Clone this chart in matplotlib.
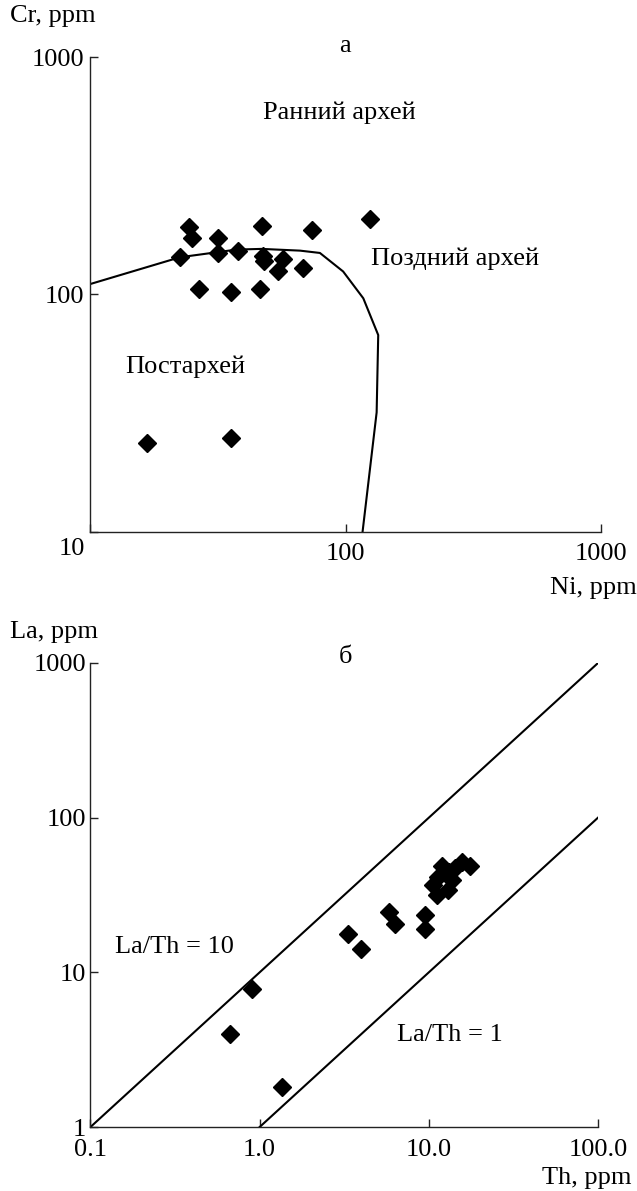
import numpy as np
import matplotlib
matplotlib.use("Agg")
from matplotlib import pyplot as plt
from matplotlib.ticker import FixedLocator, NullLocator

plt.rcParams['font.family'] = ['Liberation Serif', 'DejaVu Serif']
plt.rcParams['font.size'] = 19

W, H = 637, 1191

# panel a: Ni vs Cr
ni = [24.3, 25.1, 31.6, 47.0, 74.1, 124.8, 22.5, 31.6, 38.0, 47.4, 48.1,
      56.8, 54.6, 68.4, 26.6, 35.6, 46.3, 16.7, 35.6]
cr = [192, 173, 173, 195, 186, 207, 143.5, 149.6, 152, 145, 139,
      141.7, 126, 129, 105.7, 102, 105, 23.7, 24.8]

# boundary between fields
bound_ni = [10, 22.5, 37.5, 47, 66.4, 79.4, 97.9, 117.4, 134.3, 132.4, 116.6]
bound_cr = [110.6, 143.5, 154.6, 155.6, 153, 149.6, 125, 96.4, 67.5, 31.9, 10]

# panel b: Th vs La
th = [3.35, 3.99, 5.78, 6.34, 9.53, 9.53, 0.906, 0.669, 1.35,
      11.9, 11.4, 13.2, 14.3, 15.6, 17.6, 12.9, 11.1, 13.8, 10.6]
la = [17.7, 14.1, 24.6, 20.4, 23.5, 19.2, 7.86, 4.0, 1.82,
      48.7, 41.3, 44.5, 47.2, 51.6, 48.7, 34.0, 31.6, 39.5, 36.8]
ratios = [10, 1]

top_ticks = [10, 100, 1000]
top_xlabels = ["", "100", "1000"]
top_ylabels = ["", "100", "1000"]
bx_ticks = [0.1, 1, 10, 100]
bx_labels = ["0.1", "1.0", "10.0", "100.0"]
by_ticks = [1, 10, 100, 1000]
by_labels = ["1", "10", "100", "1000"]


def box(l, r, t, b):
    return [l / W, 1 - b / H, (r - l) / W, (b - t) / H]


def style(ax, xpad):
    for s in ["top", "right"]:
        ax.spines[s].set_visible(False)
    for s in ["left", "bottom"]:
        ax.spines[s].set_linewidth(1.0)
        ax.spines[s].set_color("#222222")
    ax.tick_params(which="major", direction="in", length=6, width=1.0,
                   color="#222222", pad=4, labelsize=19)
    ax.tick_params(axis="x", pad=xpad)
    ax.xaxis.set_minor_locator(NullLocator())
    ax.yaxis.set_minor_locator(NullLocator())


fig = plt.figure(figsize=(W / 100, H / 100), dpi=100)

ax1 = fig.add_axes(box(90, 601, 57, 532))
ax1.set_xscale("log")
ax1.set_yscale("log")
ax1.set_xlim(10, 1000)
ax1.set_ylim(10, 1000)
ax1.plot(bound_ni, bound_cr, color="black", lw=1.5)
ax1.plot(ni, cr, "D", color="black", ms=9, ls="none")
ax1.xaxis.set_major_locator(FixedLocator(top_ticks))
ax1.yaxis.set_major_locator(FixedLocator(top_ticks))
ax1.set_xticklabels(top_xlabels)
ax1.set_yticklabels(top_ylabels)
style(ax1, 8)
ax1.text(95, 580, "Ранний архей", ha="center", va="center")
ax1.text(268, 141, "Поздний архей", ha="center", va="center")
ax1.text(23.6, 49.5, "Постархей", ha="center", va="center")

ax2 = fig.add_axes(box(90.5, 598, 663, 1127))
ax2.set_xscale("log")
ax2.set_yscale("log")
ax2.set_xlim(0.1, 100)
ax2.set_ylim(1, 1000)
for r in ratios:
    t0 = max(0.1, 1.0 / r)
    ax2.plot([t0, 100], [t0 * r, 100 * r], color="black", lw=1.5)
ax2.plot(th, la, "D", color="black", ms=9, ls="none")
ax2.xaxis.set_major_locator(FixedLocator(bx_ticks))
ax2.yaxis.set_major_locator(FixedLocator(by_ticks))
ax2.set_xticklabels(bx_labels)
ax2.set_yticklabels(by_labels)
style(ax2, 9)
ax2.tick_params(axis="y", pad=3)
ax2.text(0.1396, 14.6, "La/Th = 10", ha="left", va="center")
ax2.text(13.4, 3.93, "La/Th = 1", ha="center", va="center")

# corner label shared by both axes of panel a
fig.text(72 / W, 1 - 549 / H, "10", ha="center", va="center")
fig.text(10 / W, 1 - 16 / H, "Cr, ppm", ha="left", va="center")
fig.text(345 / W, 1 - 46 / H, "а", ha="center", va="center")
fig.text(637 / W, 1 - 588 / H, "Ni, ppm", ha="right", va="center")
fig.text(10 / W, 1 - 632 / H, "La, ppm", ha="left", va="center")
fig.text(345 / W, 1 - 657 / H, "б", ha="center", va="center")
fig.text(632 / W, 1 - 1178 / H, "Th, ppm", ha="right", va="center")

fig.savefig("out.png", dpi=100)
